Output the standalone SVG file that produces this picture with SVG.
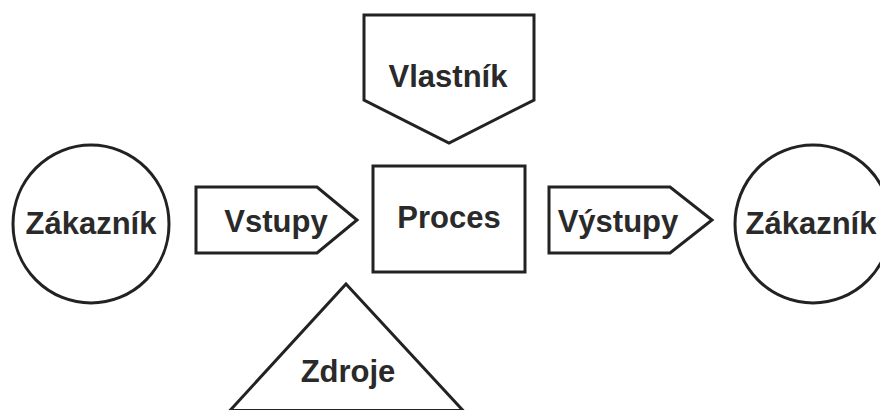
<svg xmlns="http://www.w3.org/2000/svg" width="880" height="410" viewBox="0 0 880 410">
<style>
.s{fill:#fff;stroke:#222;stroke-width:3;stroke-linejoin:miter}
.t{font-family:"Liberation Sans",Arial,sans-serif;font-weight:bold;font-size:31px;fill:#2a2a2a;text-anchor:middle}
</style>
<rect width="880" height="410" fill="#fff"/>
<g id="connectors"></g>
<g id="customer-left">
<ellipse class="s" cx="91" cy="224" rx="78" ry="79"/>
<text class="t" x="91" y="234">Zákazník</text>
</g>
<g id="inputs">
<polygon class="s" points="196,187 317,187 357,220 317,253 196,253"/>
<text class="t" x="276" y="232">Vstupy</text>
</g>
<g id="owner">
<polygon class="s" points="364,15 534,15 534,100 449,143 364,100"/>
<text class="t" x="448" y="87">Vlastník</text>
</g>
<g id="process">
<rect class="s" x="373" y="166" width="152" height="106"/>
<text class="t" x="449" y="228">Proces</text>
</g>
<g id="outputs">
<polygon class="s" points="549,187 670,187 712,220 670,253 549,253"/>
<text class="t" x="618" y="232">Výstupy</text>
</g>
<g id="customer-right">
<ellipse class="s" cx="813" cy="224" rx="78" ry="79"/>
<text class="t" x="811" y="234">Zákazník</text>
</g>
<g id="resources">
<polygon class="s" points="346,284 463,410.5 230,410.5"/>
<text class="t" x="348" y="382">Zdroje</text>
</g>
</svg>
